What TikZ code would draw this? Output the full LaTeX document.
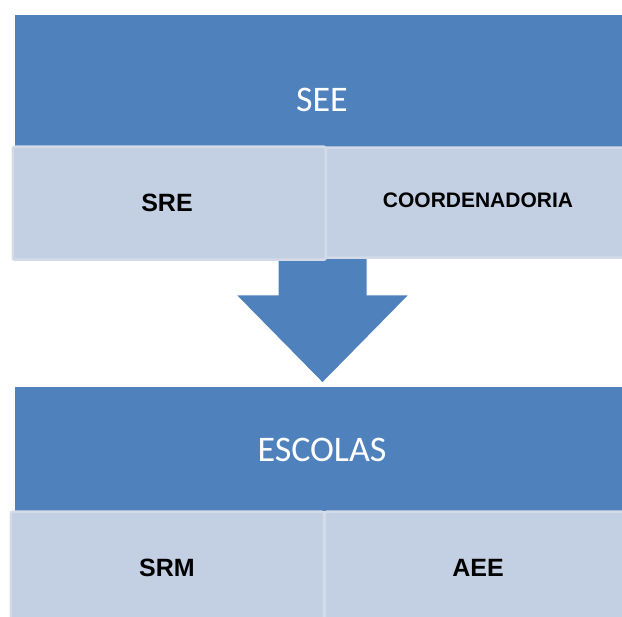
\documentclass[tikz,border=0pt]{standalone}
\usepackage{fontspec}
\usetikzlibrary{calc}
\setmainfont{Liberation Sans}
\newfontfamily\calib{Carlito}
\definecolor{accblue}{HTML}{4F81BD}
\definecolor{lightbox}{HTML}{C3CFE2}
\definecolor{lightedge}{HTML}{D3DBE9}
\begin{document}
\begin{tikzpicture}[x=1pt,y=-1pt,
  bluebox/.style={fill=accblue, draw=none, rectangle, inner sep=0pt, anchor=north west},
  subbox/.style={fill=lightbox, draw=lightedge, line width=2.5pt, rounded corners=2pt, rectangle, inner sep=0pt, anchor=north west},
  bigtext/.style={text=white, font=\calib\fontsize{36}{40}\selectfont, inner sep=0pt},
  smalltext/.style={text=black, font=\bfseries\fontsize{25}{28}\selectfont, inner sep=0pt}
]
\useasboundingbox (0,0) rectangle (622,617);
% main blue boxes
\node[bluebox, minimum width=612pt, minimum height=132pt] (see) at (15,15) {};
\node[bluebox, minimum width=612pt, minimum height=124pt] (escolas) at (15,387) {};
% block arrow
\coordinate (atop) at (322.5,250);
\coordinate (atip) at (322.5,383);
\fill[accblue, draw=white, line width=1pt]
  ($(atop)+(-44.5,0)$) -- ($(atop)+(44.5,0)$) -- (367,295) -- (409,295) -- (atip)
  -- (236,295) -- (278,295) -- cycle;
% sub boxes
\node[subbox, minimum width=303pt, minimum height=110pt] (coord) at (323.5,146.5) {};
\node[subbox, minimum width=313pt, minimum height=113pt] (sre) at (11.5,145.5) {};
\node[subbox, minimum width=303pt, minimum height=115pt] (aee) at (323.5,510.5) {};
\node[subbox, minimum width=313pt, minimum height=115pt] (srm) at (9.5,510.5) {};
% texts
\node[bigtext] (seet) at (322,100) {SEE};
\node[bigtext] (escolast) at (322,450) {ESCOLAS};
\node[smalltext] (sret) at (167,203) {SRE};
\node[smalltext, font=\bfseries\fontsize{21}{24}\selectfont] (coordt) at (478,200) {COORDENADORIA};
\node[smalltext] (srmt) at (167,568) {SRM};
\node[smalltext] (aeet) at (478,568) {AEE};
\end{tikzpicture}
\end{document}
